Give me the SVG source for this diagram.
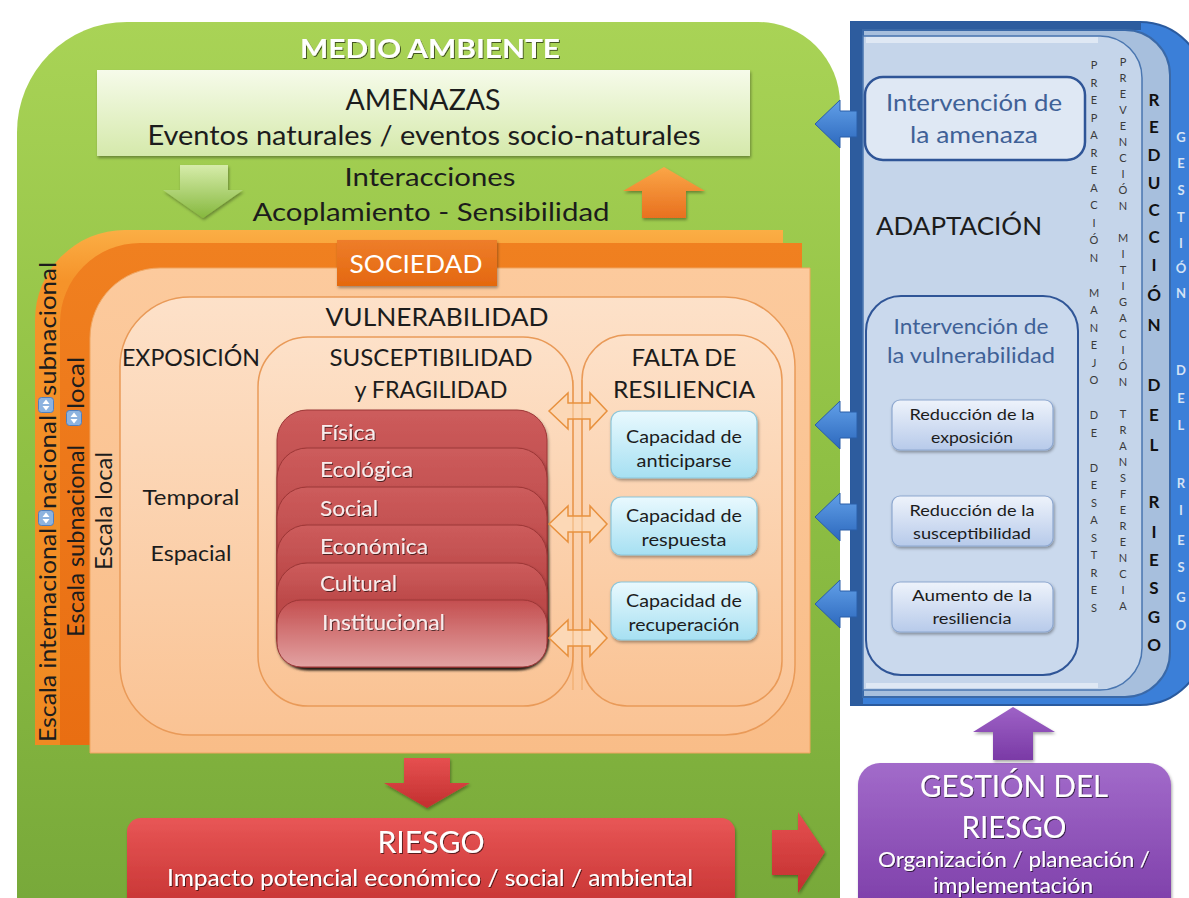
<svg xmlns="http://www.w3.org/2000/svg" xmlns:xlink="http://www.w3.org/1999/xlink" width="1189" height="898" viewBox="0 0 1189 898">
<defs>
<style>
text{font-family:Lato,"Noto Sans","Liberation Sans",sans-serif;fill:#1c1c1c}
.c{text-anchor:middle}
.w{fill:#ffffff}
.wc{fill:#f8ecec}
.bl{fill:#3f6197}
.vl{font-size:11px;fill:#3a3a3a;text-anchor:middle}
.vr{font-size:17px;font-weight:bold;fill:#111;text-anchor:middle}
.vg{font-size:13px;font-weight:bold;fill:#d3e2f6;text-anchor:middle}
.card{stroke:#9c3636;stroke-width:1}
.cap{fill:url(#gCyan);stroke:#8cc6da;stroke-width:1.2}
.sbox{fill:url(#gSmall);stroke:#8ea8d0;stroke-width:1.2}
.cont{fill:url(#gCont);stroke:#e99a58;stroke-width:1.5}
.darr{fill:#fcd8b6;stroke:#e8913e;stroke-width:1.5}
.barr{fill:url(#gBlueA);stroke:#2a5ea8;stroke-width:1}
</style>
<linearGradient id="gGreen" x1="0" y1="0" x2="0" y2="1"><stop offset="0" stop-color="#a9d356"/><stop offset="0.5" stop-color="#8fc044"/><stop offset="1" stop-color="#78a93a"/></linearGradient>
<linearGradient id="gAmen" x1="0" y1="0" x2="0" y2="1"><stop offset="0" stop-color="#f6fbea"/><stop offset="1" stop-color="#d5e9ab"/></linearGradient>
<linearGradient id="gGA" x1="0" y1="0" x2="0" y2="1"><stop offset="0" stop-color="#d6ecaa"/><stop offset="1" stop-color="#86b83e"/></linearGradient>
<linearGradient id="gOA" x1="0" y1="0" x2="0" y2="1"><stop offset="0" stop-color="#fba647"/><stop offset="1" stop-color="#e8701f"/></linearGradient>
<linearGradient id="gO1" x1="0" y1="0" x2="0" y2="1"><stop offset="0" stop-color="#fbae45"/><stop offset="0.1" stop-color="#f5932a"/><stop offset="1" stop-color="#f08a22"/></linearGradient>
<linearGradient id="gO2" x1="0" y1="0" x2="0" y2="1"><stop offset="0" stop-color="#f08020"/><stop offset="1" stop-color="#e96e12"/></linearGradient>
<linearGradient id="gPeach" x1="0" y1="0" x2="0" y2="1"><stop offset="0" stop-color="#fcca9d"/><stop offset="1" stop-color="#f9bd88"/></linearGradient>
<linearGradient id="gCont" x1="0" y1="0" x2="0" y2="1"><stop offset="0" stop-color="#fde1c9"/><stop offset="1" stop-color="#fac394"/></linearGradient>
<linearGradient id="gSoc" x1="0" y1="0" x2="0" y2="1"><stop offset="0" stop-color="#ee7d2a"/><stop offset="1" stop-color="#e4680f"/></linearGradient>
<linearGradient id="gCard" x1="0" y1="0" x2="0" y2="1"><stop offset="0" stop-color="#cd5c5c"/><stop offset="0.35" stop-color="#bd4a4a"/><stop offset="1" stop-color="#b94747"/></linearGradient>
<linearGradient id="gCard6" x1="0" y1="0" x2="0" y2="1"><stop offset="0" stop-color="#c44e4f"/><stop offset="1" stop-color="#e2a2a2"/></linearGradient>
<linearGradient id="gCyan" x1="0" y1="0" x2="0" y2="1"><stop offset="0" stop-color="#e9f9fe"/><stop offset="1" stop-color="#a6e0f2"/></linearGradient>
<linearGradient id="gRed" x1="0" y1="0" x2="0" y2="1"><stop offset="0" stop-color="#e85656"/><stop offset="1" stop-color="#c3302f"/></linearGradient>
<linearGradient id="gRedA" x1="0" y1="0" x2="0" y2="1"><stop offset="0" stop-color="#e65050"/><stop offset="1" stop-color="#c22f2f"/></linearGradient>
<linearGradient id="gPur" x1="0" y1="0" x2="0" y2="1"><stop offset="0" stop-color="#a26bca"/><stop offset="1" stop-color="#7a3aa6"/></linearGradient>
<linearGradient id="gPurA" x1="0" y1="0" x2="0" y2="1"><stop offset="0" stop-color="#9e62c6"/><stop offset="1" stop-color="#7a3aa6"/></linearGradient>
<linearGradient id="gBlueA" x1="0" y1="0" x2="0" y2="1"><stop offset="0" stop-color="#62a0e8"/><stop offset="1" stop-color="#2c68bd"/></linearGradient>
<linearGradient id="gSmall" x1="0" y1="0" x2="0" y2="1"><stop offset="0" stop-color="#eef3fb"/><stop offset="1" stop-color="#b7caea"/></linearGradient>
<filter id="sh" x="-10%" y="-10%" width="130%" height="140%"><feDropShadow dx="1" dy="2" stdDeviation="1.5" flood-color="#000" flood-opacity="0.35"/></filter>
<filter id="ts" x="-5%" y="-20%" width="110%" height="150%"><feDropShadow dx="1" dy="1" stdDeviation="0.7" flood-color="#000" flood-opacity="0.6"/></filter>
<path id="darrow" d="M-29,0 L-10,-18 L-10,-8 L12,-8 L12,-18 L29,0 L12,18 L12,8 L-10,8 L-10,18 Z"/>
<path id="barrow" d="M0,0 L25,-24 L25,-13 L42,-13 L42,13 L25,13 L25,24 Z"/>
<g id="ico"><rect x="-7.5" y="-7.5" width="15" height="15" rx="3" fill="#8db3df" stroke="#4f7fbf"/><path d="M0,-5.5 L-3.5,-1 L3.5,-1 Z M0,5.5 L-3.5,1 L3.5,1 Z" fill="#fff"/></g>
</defs>

<rect width="1189" height="898" fill="#ffffff"/>

<g id="medio-ambiente">
<path d="M17,898 V132 A110,110 0 0 1 127,22 H758 A82,82 0 0 1 840,104 V898 Z" fill="url(#gGreen)"/>
<text x="430" y="58" class="c w" font-size="27" font-weight="bold" textLength="260" lengthAdjust="spacingAndGlyphs" filter="url(#ts)">MEDIO AMBIENTE</text>
</g>

<g id="amenazas">
<rect x="97" y="70" width="653" height="86" fill="url(#gAmen)" filter="url(#sh)"/>
<text x="423" y="110" class="c" font-size="28" textLength="155" lengthAdjust="spacingAndGlyphs">AMENAZAS</text>
<text x="424" y="145" class="c" font-size="26" textLength="553" lengthAdjust="spacingAndGlyphs">Eventos naturales / eventos socio-naturales</text>
</g>

<g id="interacciones">
<text x="430" y="186" class="c" font-size="25" textLength="171" lengthAdjust="spacingAndGlyphs">Interacciones</text>
<text x="431" y="221" class="c" font-size="25" textLength="357" lengthAdjust="spacingAndGlyphs">Acoplamiento - Sensibilidad</text>
</g>

<g id="escalas">
<path d="M35,745 V320 A90,90 0 0 1 125,230 H783 V745 Z" fill="url(#gO1)"/>
<path d="M60,745 V323 A80,80 0 0 1 140,243 H802 V745 Z" fill="url(#gO2)"/>
<path d="M90,753 V338 A70,70 0 0 1 160,268 H810 V753 Z" fill="url(#gPeach)" stroke="#f0a560" stroke-width="1"/>
<text transform="translate(56,742) rotate(-90)" font-size="24" textLength="214" lengthAdjust="spacingAndGlyphs">Escala internacional</text>
<use xlink:href="#ico" x="46" y="518"/>
<text transform="translate(56,509) rotate(-90)" font-size="24" textLength="94" lengthAdjust="spacingAndGlyphs">nacional</text>
<use xlink:href="#ico" x="46" y="405"/>
<text transform="translate(56,396) rotate(-90)" font-size="24" textLength="134" lengthAdjust="spacingAndGlyphs">subnacional</text>
<text transform="translate(84,637) rotate(-90)" font-size="24" textLength="192" lengthAdjust="spacingAndGlyphs">Escala subnacional</text>
<use xlink:href="#ico" x="74" y="418"/>
<text transform="translate(84,409) rotate(-90)" font-size="24" textLength="52" lengthAdjust="spacingAndGlyphs">local</text>
<text transform="translate(112,570) rotate(-90)" font-size="24" textLength="118" lengthAdjust="spacingAndGlyphs">Escala local</text>
</g>

<g id="sociedad">
<rect x="337" y="240" width="160" height="46" fill="url(#gSoc)" filter="url(#sh)"/>
<text x="416" y="273" class="c w" font-size="25" textLength="133" lengthAdjust="spacingAndGlyphs">SOCIEDAD</text>
</g>

<g id="vulnerabilidad">
<rect x="120" y="297" width="675" height="438" rx="70" class="cont"/>
<text x="437" y="326" class="c" font-size="25" textLength="223" lengthAdjust="spacingAndGlyphs">VULNERABILIDAD</text>
</g>

<g id="exposicion">
<text x="122" y="366" font-size="23" textLength="138" lengthAdjust="spacingAndGlyphs">EXPOSICIÓN</text>
<text x="191" y="505" class="c" font-size="21" textLength="97" lengthAdjust="spacingAndGlyphs">Temporal</text>
<text x="191" y="561" class="c" font-size="21" textLength="81" lengthAdjust="spacingAndGlyphs">Espacial</text>
</g>

<g id="susceptibilidad">
<rect x="258" y="337" width="315" height="369" rx="50" class="cont"/>
<text x="431" y="366" class="c" font-size="23" textLength="203" lengthAdjust="spacingAndGlyphs">SUSCEPTIBILIDAD</text>
<text x="431" y="398" class="c" font-size="23" textLength="153" lengthAdjust="spacingAndGlyphs">y FRAGILIDAD</text>
</g>

<g id="falta-resiliencia">
<rect x="582" y="335" width="200" height="371" rx="45" class="cont"/>
<text x="684" y="366" class="c" font-size="24" textLength="105" lengthAdjust="spacingAndGlyphs">FALTA DE</text>
<text x="684" y="398" class="c" font-size="24" textLength="142" lengthAdjust="spacingAndGlyphs">RESILIENCIA</text>
</g>

<g id="fisica">
<rect x="277" y="410" width="270" height="257" rx="30" fill="url(#gCard)" class="card" filter="url(#sh)"/>
<text x="320" y="440" class="wc" font-size="21" textLength="56" lengthAdjust="spacingAndGlyphs" filter="url(#ts)">Física</text>
</g>
<g id="ecologica">
<rect x="277" y="448" width="270" height="219" rx="30" fill="url(#gCard)" class="card" filter="url(#sh)"/>
<text x="320" y="477" class="wc" font-size="21" textLength="93" lengthAdjust="spacingAndGlyphs" filter="url(#ts)">Ecológica</text>
</g>
<g id="social">
<rect x="277" y="487" width="270" height="180" rx="30" fill="url(#gCard)" class="card" filter="url(#sh)"/>
<text x="320" y="516" class="wc" font-size="21" textLength="58" lengthAdjust="spacingAndGlyphs" filter="url(#ts)">Social</text>
</g>
<g id="economica">
<rect x="277" y="525" width="270" height="142" rx="30" fill="url(#gCard)" class="card" filter="url(#sh)"/>
<text x="320" y="554" class="wc" font-size="21" textLength="108" lengthAdjust="spacingAndGlyphs" filter="url(#ts)">Económica</text>
</g>
<g id="cultural">
<rect x="277" y="563" width="270" height="104" rx="30" fill="url(#gCard)" class="card" filter="url(#sh)"/>
<text x="320" y="591" class="wc" font-size="21" textLength="77" lengthAdjust="spacingAndGlyphs" filter="url(#ts)">Cultural</text>
</g>
<g id="institucional">
<rect x="277" y="600" width="270" height="67" rx="24" fill="url(#gCard6)" class="card" filter="url(#sh)"/>
<text x="322" y="630" class="wc" font-size="21" textLength="123" lengthAdjust="spacingAndGlyphs" filter="url(#ts)">Institucional</text>
</g>

<g id="cap-anticiparse">
<rect x="611" y="411" width="146" height="67" rx="10" class="cap" filter="url(#sh)"/>
<text x="684" y="443" class="c" font-size="18" textLength="116" lengthAdjust="spacingAndGlyphs">Capacidad de</text>
<text x="684" y="467" class="c" font-size="18" textLength="95" lengthAdjust="spacingAndGlyphs">anticiparse</text>
</g>
<g id="cap-respuesta">
<rect x="611" y="497" width="146" height="58" rx="10" class="cap" filter="url(#sh)"/>
<text x="684" y="522" class="c" font-size="18" textLength="116" lengthAdjust="spacingAndGlyphs">Capacidad de</text>
<text x="684" y="546" class="c" font-size="18" textLength="85" lengthAdjust="spacingAndGlyphs">respuesta</text>
</g>
<g id="cap-recuperacion">
<rect x="611" y="582" width="146" height="58" rx="10" class="cap" filter="url(#sh)"/>
<text x="684" y="607" class="c" font-size="18" textLength="116" lengthAdjust="spacingAndGlyphs">Capacidad de</text>
<text x="684" y="631" class="c" font-size="18" textLength="111" lengthAdjust="spacingAndGlyphs">recuperación</text>
</g>

<g id="riesgo">
<rect x="127" y="818" width="608" height="100" rx="14" fill="url(#gRed)" filter="url(#sh)"/>
<text x="431" y="853" class="c w" font-size="30" textLength="107" lengthAdjust="spacingAndGlyphs" filter="url(#ts)">RIESGO</text>
<text x="430" y="886" class="c w" font-size="23" textLength="526" lengthAdjust="spacingAndGlyphs" filter="url(#ts)">Impacto potencial económico / social / ambiental</text>
</g>

<g id="panel-gestion">
<path d="M851,22 H1140 A65,65 0 0 1 1205,87 V640 A65,65 0 0 1 1140,705 H851 Z" fill="#3b7fd8" stroke="#2a5a9e" stroke-width="2"/>
<rect x="851" y="22" width="12" height="683" fill="#2d5c9e"/>
<rect x="851" y="22" width="290" height="8" fill="#2d5c9e"/>
<text class="vg"><tspan x="1181" y="142">G</tspan><tspan x="1181" y="168">E</tspan><tspan x="1181" y="195">S</tspan><tspan x="1181" y="222">T</tspan><tspan x="1181" y="248">I</tspan><tspan x="1181" y="273">Ó</tspan><tspan x="1181" y="298">N</tspan><tspan x="1181" y="375">D</tspan><tspan x="1181" y="403">E</tspan><tspan x="1181" y="430">L</tspan><tspan x="1181" y="488">R</tspan><tspan x="1181" y="515">I</tspan><tspan x="1181" y="545">E</tspan><tspan x="1181" y="572">S</tspan><tspan x="1181" y="602">G</tspan><tspan x="1181" y="630">O</tspan></text>
</g>

<g id="panel-reduccion">
<path d="M863,30 H1125 A45,45 0 0 1 1170,75 V652 A45,45 0 0 1 1125,697 H863 Z" fill="#a7bfdd" stroke="#3a69a8" stroke-width="2"/>
<text class="vr"><tspan x="1154" y="106">R</tspan><tspan x="1154" y="133">E</tspan><tspan x="1154" y="161">D</tspan><tspan x="1154" y="189">U</tspan><tspan x="1154" y="216">C</tspan><tspan x="1154" y="243">C</tspan><tspan x="1154" y="271">I</tspan><tspan x="1154" y="301">Ó</tspan><tspan x="1154" y="331">N</tspan><tspan x="1154" y="391">D</tspan><tspan x="1154" y="421">E</tspan><tspan x="1154" y="451">L</tspan><tspan x="1154" y="508">R</tspan><tspan x="1154" y="538">I</tspan><tspan x="1154" y="566">E</tspan><tspan x="1154" y="594">S</tspan><tspan x="1154" y="623">G</tspan><tspan x="1154" y="651">O</tspan></text>
</g>

<g id="panel-adaptacion">
<path d="M863,36 H1100 A42,42 0 0 1 1142,78 V648 A42,42 0 0 1 1100,690 H863 Z" fill="#c5d5ea" stroke="#4a76b0" stroke-width="1.5"/>
<rect x="866" y="37" width="232" height="6" fill="#dfe8f4"/>
<rect x="866" y="683" width="232" height="5" fill="#dfe8f4"/>
<text class="vl"><tspan x="1123" y="66">P</tspan><tspan x="1123" y="82">R</tspan><tspan x="1123" y="98">E</tspan><tspan x="1123" y="114">V</tspan><tspan x="1123" y="130">E</tspan><tspan x="1123" y="146">N</tspan><tspan x="1123" y="162">C</tspan><tspan x="1123" y="178">I</tspan><tspan x="1123" y="194">Ó</tspan><tspan x="1123" y="210">N</tspan><tspan x="1123" y="242">M</tspan><tspan x="1123" y="258">I</tspan><tspan x="1123" y="274">T</tspan><tspan x="1123" y="290">I</tspan><tspan x="1123" y="306">G</tspan><tspan x="1123" y="322">A</tspan><tspan x="1123" y="338">C</tspan><tspan x="1123" y="354">I</tspan><tspan x="1123" y="370">Ó</tspan><tspan x="1123" y="386">N</tspan><tspan x="1123" y="418">T</tspan><tspan x="1123" y="434">R</tspan><tspan x="1123" y="450">A</tspan><tspan x="1123" y="466">N</tspan><tspan x="1123" y="482">S</tspan><tspan x="1123" y="498">F</tspan><tspan x="1123" y="514">E</tspan><tspan x="1123" y="530">R</tspan><tspan x="1123" y="546">E</tspan><tspan x="1123" y="562">N</tspan><tspan x="1123" y="578">C</tspan><tspan x="1123" y="594">I</tspan><tspan x="1123" y="610">A</tspan></text>
<text class="vl"><tspan x="1094" y="69">P</tspan><tspan x="1094" y="86.5">R</tspan><tspan x="1094" y="104">E</tspan><tspan x="1094" y="121.5">P</tspan><tspan x="1094" y="139">A</tspan><tspan x="1094" y="156.5">R</tspan><tspan x="1094" y="174">E</tspan><tspan x="1094" y="191.5">A</tspan><tspan x="1094" y="209">C</tspan><tspan x="1094" y="226.5">I</tspan><tspan x="1094" y="244">Ó</tspan><tspan x="1094" y="261.5">N</tspan><tspan x="1094" y="296.5">M</tspan><tspan x="1094" y="314">A</tspan><tspan x="1094" y="331.5">N</tspan><tspan x="1094" y="349">E</tspan><tspan x="1094" y="366.5">J</tspan><tspan x="1094" y="384">O</tspan><tspan x="1094" y="419">D</tspan><tspan x="1094" y="436.5">E</tspan><tspan x="1094" y="471.5">D</tspan><tspan x="1094" y="489">E</tspan><tspan x="1094" y="506.5">S</tspan><tspan x="1094" y="524">A</tspan><tspan x="1094" y="541.5">S</tspan><tspan x="1094" y="559">T</tspan><tspan x="1094" y="576.5">R</tspan><tspan x="1094" y="594">E</tspan><tspan x="1094" y="611.5">S</tspan></text>
<text x="876" y="235" font-size="25" textLength="166" lengthAdjust="spacingAndGlyphs">ADAPTACIÓN</text>
</g>

<g id="intervencion-amenaza">
<rect x="865" y="77" width="220" height="83" rx="18" fill="#dfe8f4" stroke="#2f5597" stroke-width="2.5"/>
<text x="974" y="111" class="c bl" font-size="23" textLength="176" lengthAdjust="spacingAndGlyphs">Intervención de</text>
<text x="974" y="143" class="c bl" font-size="23" textLength="128" lengthAdjust="spacingAndGlyphs">la amenaza</text>
</g>

<g id="intervencion-vulnerabilidad">
<rect x="866" y="296" width="212" height="379" rx="35" fill="#cad9ed" stroke="#2f5597" stroke-width="2"/>
<text x="971" y="334" class="c bl" font-size="21" textLength="155" lengthAdjust="spacingAndGlyphs">Intervención de</text>
<text x="971" y="363" class="c bl" font-size="21" textLength="168" lengthAdjust="spacingAndGlyphs">la vulnerabilidad</text>
</g>

<g id="reduccion-exposicion">
<rect x="892" y="400" width="161" height="50" rx="8" class="sbox" filter="url(#sh)"/>
<text x="972" y="420" class="c" font-size="16" textLength="125" lengthAdjust="spacingAndGlyphs">Reducción de la</text>
<text x="972" y="443" class="c" font-size="16" textLength="82" lengthAdjust="spacingAndGlyphs">exposición</text>
</g>
<g id="reduccion-susceptibilidad">
<rect x="892" y="496" width="161" height="50" rx="8" class="sbox" filter="url(#sh)"/>
<text x="972" y="516" class="c" font-size="16" textLength="125" lengthAdjust="spacingAndGlyphs">Reducción de la</text>
<text x="972" y="539" class="c" font-size="16" textLength="118" lengthAdjust="spacingAndGlyphs">susceptibilidad</text>
</g>
<g id="aumento-resiliencia">
<rect x="892" y="582" width="161" height="50" rx="8" class="sbox" filter="url(#sh)"/>
<text x="972" y="601" class="c" font-size="16" textLength="120" lengthAdjust="spacingAndGlyphs">Aumento  de la</text>
<text x="972" y="624" class="c" font-size="16" textLength="79" lengthAdjust="spacingAndGlyphs">resiliencia</text>
</g>

<g id="gestion-riesgo">
<rect x="858" y="763" width="313" height="160" rx="22" fill="url(#gPur)" filter="url(#sh)"/>
<text x="1014" y="797" class="c w" font-size="30" textLength="188" lengthAdjust="spacingAndGlyphs" filter="url(#ts)">GESTIÓN DEL</text>
<text x="1014" y="838" class="c w" font-size="30" textLength="105" lengthAdjust="spacingAndGlyphs" filter="url(#ts)">RIESGO</text>
<text x="1014" y="867" class="c w" font-size="21" textLength="272" lengthAdjust="spacingAndGlyphs" filter="url(#ts)">Organización / planeación /</text>
<text x="1013" y="893" class="c w" font-size="21" textLength="160" lengthAdjust="spacingAndGlyphs" filter="url(#ts)">implementación</text>
</g>

<g id="connectors">
<path d="M180,165 H228 V190 H243 L203,218 L163,190 H180 Z" fill="url(#gGA)" filter="url(#sh)"/>
<path d="M664,167 L705,191 H686 V218 H642 V191 H623 Z" fill="url(#gOA)" filter="url(#sh)"/>
<use xlink:href="#darrow" x="578" y="411" class="darr"/>
<use xlink:href="#darrow" x="578" y="524" class="darr"/>
<use xlink:href="#darrow" x="578" y="638" class="darr"/>
<line x1="573" y1="380" x2="573" y2="690" stroke="#e8913e" stroke-width="1" opacity="0.6"/>
<line x1="582" y1="380" x2="582" y2="690" stroke="#e8913e" stroke-width="1" opacity="0.6"/>
<path d="M404,758 H450 V783 H470 L427,808 L384,783 H404 Z" fill="url(#gRedA)" filter="url(#sh)"/>
<path d="M772,830 H798 V812 L825,852 L798,893 V875 H772 Z" fill="url(#gRedA)" filter="url(#sh)"/>
<path d="M1013,707 L1055,732 H1033 V760 H993 V732 H973 Z" fill="url(#gPurA)" filter="url(#sh)"/>
<use xlink:href="#barrow" x="815" y="124" class="barr"/>
<use xlink:href="#barrow" x="815" y="425" class="barr"/>
<use xlink:href="#barrow" x="815" y="517" class="barr"/>
<use xlink:href="#barrow" x="815" y="604" class="barr"/>
</g>
</svg>
